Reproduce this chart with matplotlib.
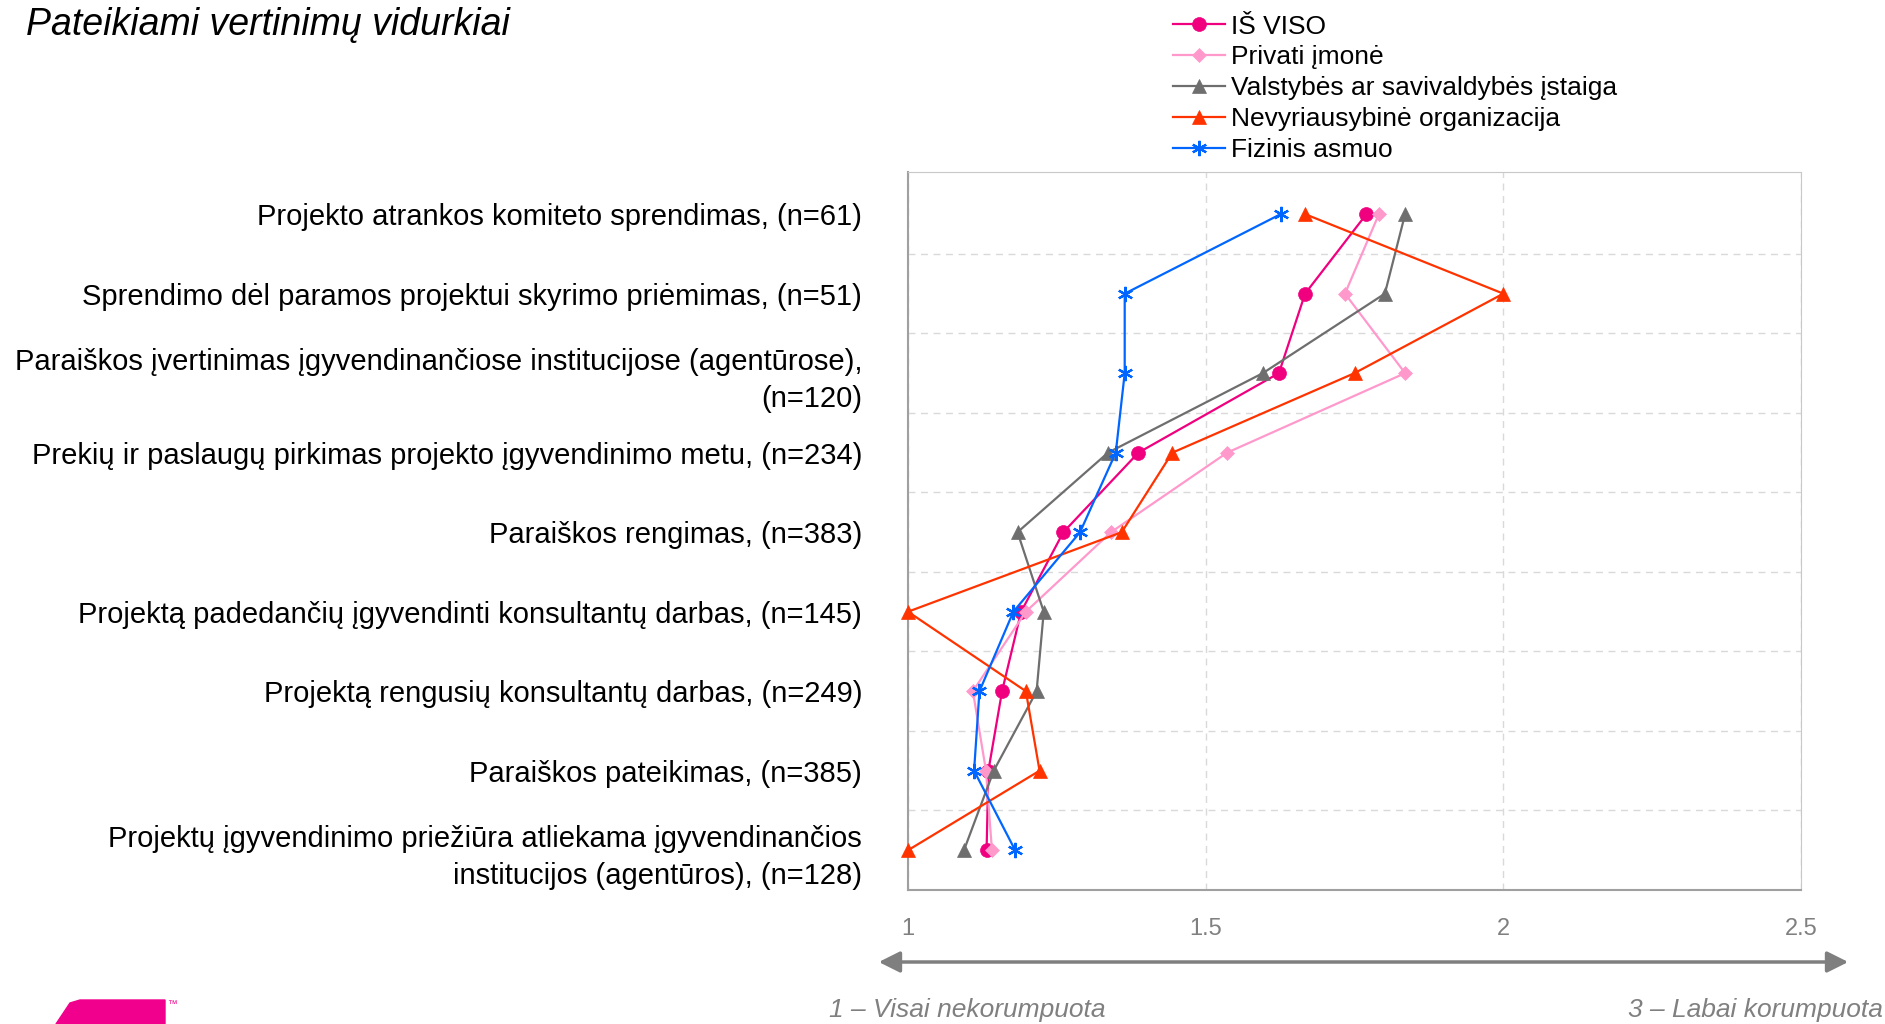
"""Pateikiami vertinimu vidurkiai - line chart of mean ratings by organisation type."""
import matplotlib
matplotlib.use('Agg')
import matplotlib.pyplot as plt
from matplotlib.patches import Polygon, FancyArrowPatch
import numpy as np

plt.rcParams['font.family'] = ['Liberation Sans', 'DejaVu Sans']

categories = [
    'Projekto atrankos komiteto sprendimas, (n=61)',
    'Sprendimo dėl paramos projektui skyrimo priėmimas, (n=51)',
    'Paraiškos įvertinimas įgyvendinančiose institucijose (agentūrose),\n(n=120)',
    'Prekių ir paslaugų pirkimas projekto įgyvendinimo metu, (n=234)',
    'Paraiškos rengimas, (n=383)',
    'Projektą padedančių įgyvendinti konsultantų darbas, (n=145)',
    'Projektą rengusių konsultantų darbas, (n=249)',
    'Paraiškos pateikimas, (n=385)',
    'Projektų įgyvendinimo priežiūra atliekama įgyvendinančios\ninstitucijos (agentūros), (n=128)',
]

is_viso    = [1.770, 1.667, 1.623, 1.387, 1.261, 1.190, 1.158, 1.135, 1.132]
privati    = [1.791, 1.734, 1.835, 1.536, 1.341, 1.198, 1.109, 1.131, 1.141]
valstybes  = [1.835, 1.801, 1.596, 1.336, 1.184, 1.228, 1.216, 1.144, 1.094]
nvo        = [1.667, 2.000, 1.750, 1.444, 1.359, 1.000, 1.198, 1.221, 1.000]
fizinis    = [1.626, 1.364, 1.364, 1.349, 1.289, 1.177, 1.120, 1.111, 1.180]

series = [
    ('IŠ VISO', is_viso, '#F0007F', 'o', 10),
    ('Privati įmonė', privati, '#FF99CC', 'D', 7),
    ('Valstybės ar savivaldybės įstaiga', valstybes, '#6E6E6E', '^', 10),
    ('Nevyriausybinė organizacija', nvo, '#FF3300', '^', 10),
    ('Fizinis asmuo', fizinis, '#0066FF', (6, 2, 0), 11),
]

xticks = [1, 1.5, 2, 2.5]

fig = plt.figure(figsize=(18.85, 10.24), dpi=100)
ax = fig.add_axes([908 / 1885, 1 - 890 / 1024, (1801 - 908) / 1885, (890 - 172) / 1024])

y = np.arange(len(categories))
for name, vals, col, mk, ms in series:
    star = isinstance(mk, tuple)
    ax.plot(vals, y, color=col, marker=mk, markersize=ms, lw=1.6, label=name,
            markeredgewidth=1.6 if star else 0.5, markeredgecolor=col,
            clip_on=False, zorder=3)

ax.set_xlim(1, 2.5)
ax.set_ylim(len(categories) - 0.5, -0.53)
ax.set_xticks(xticks)
ax.set_xticklabels(['1', '1.5', '2', '2.5'], color='#808080', fontsize=17)
ax.set_yticks(y)
ax.set_yticklabels(categories, fontsize=21, linespacing=1.4)
ax.set_yticks(np.arange(0.5, len(categories) - 0.5, 1), minor=True)
ax.tick_params(axis='y', which='both', length=0, pad=33)
ax.tick_params(axis='x', length=0, pad=20)
ax.grid(axis='y', which='minor', color='#D9D9D9', ls=(0, (5, 4)), lw=1)
ax.grid(axis='x', which='major', color='#D9D9D9', ls=(0, (5, 4)), lw=1)
ax.set_axisbelow(True)
for s in ['top', 'right']:
    ax.spines[s].set_color('#C8C8C8')
for s in ['left', 'bottom']:
    ax.spines[s].set_color('#A0A0A0')
    ax.spines[s].set_linewidth(1.5)

fig.legend(loc='upper left', bbox_to_anchor=(1162 / 1885, 1 - 4 / 1024), frameon=False,
           fontsize=19, handlelength=2.0, handletextpad=0.2, labelspacing=0.26,
           borderaxespad=0)

fig.text(26 / 1885, 1 - 25 / 1024, 'Pateikiami vertinimų vidurkiai', fontsize=27,
         style='italic', va='center', ha='left')

# double headed arrow under the axis
arr = FancyArrowPatch((876 / 1885, 1 - 962 / 1024), (1851 / 1885, 1 - 962 / 1024),
                      transform=fig.transFigure, arrowstyle='<|-|>', mutation_scale=32,
                      color='#7F7F7F', lw=2.5)
fig.patches.append(arr)
fig.text(967 / 1885, 1 - 1010 / 1024, '1 – Visai nekorumpuota', fontsize=19, style='italic',
         color='#808080', ha='center', va='center')
fig.text(1883 / 1885, 1 - 1010 / 1024, '3 – Labai korumpuota', fontsize=19, style='italic',
         color='#808080', ha='right', va='center')

# logo fragment at bottom left
logo = Polygon([(56 / 1885, 0), (70 / 1885, 1 - 1003 / 1024), (80 / 1885, 1 - 1000 / 1024),
                (165 / 1885, 1 - 1000 / 1024), (165 / 1885, 0)], closed=True,
               transform=fig.transFigure, color='#F0008C')
fig.patches.append(logo)
fig.text(167 / 1885, 1 - 1004 / 1024, '™', fontsize=7, color='#F0008C', ha='left', va='center')

plt.savefig('out.png', dpi=100)
plt.close()
